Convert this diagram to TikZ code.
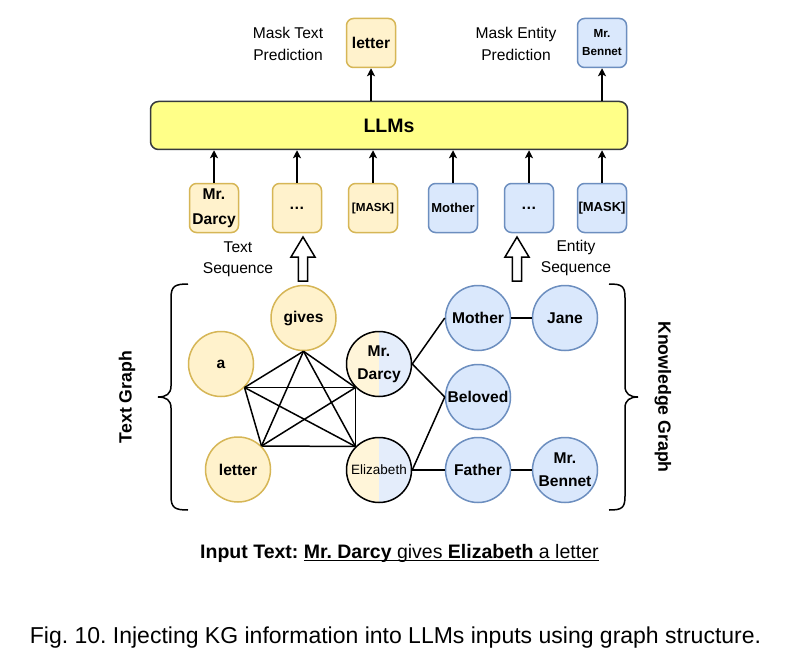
\documentclass[tikz,border=0pt]{standalone}
\usepackage{fontspec}
\setmainfont{Liberation Sans}
\usetikzlibrary{arrows.meta}
\frenchspacing
\definecolor{yfill}{HTML}{FFF2CC}
\definecolor{ystroke}{HTML}{D6B656}
\definecolor{bfill}{HTML}{DAE8FC}
\definecolor{bstroke}{HTML}{6C8EBF}
\definecolor{lfill}{HTML}{FFFF88}
\definecolor{lstroke}{HTML}{36393D}
\definecolor{hyl}{HTML}{FFF5D9}
\definecolor{hbl}{HTML}{E4EDFB}
\newcommand\fsz[2]{\fontsize{#1}{#2}\selectfont}
\newcommand\ulx[1]{\setbox0\hbox{#1}\rlap{\rule[-3pt]{\wd0}{1.4pt}}\box0}
\tikzset{
  ybox/.style={draw=ystroke, fill=yfill, line width=1.5pt, rounded corners=7pt, minimum width=49pt, minimum height=49pt, align=center, inner sep=0pt},
  bbox/.style={draw=bstroke, fill=bfill, line width=1.5pt, rounded corners=7pt, minimum width=49pt, minimum height=49pt, align=center, inner sep=0pt},
  ycirc/.style={circle, draw=ystroke, fill=yfill, line width=1.5pt, minimum size=65pt, inner sep=0pt, align=center, font=\fsz{15.6}{23}\bfseries},
  bcirc/.style={circle, draw=bstroke, fill=bfill, line width=1.5pt, minimum size=65pt, inner sep=0pt, align=center, font=\fsz{15.6}{23}\bfseries},
  splitcirc/.style={circle, draw=black, line width=1.5pt, minimum size=65pt, inner sep=0pt, align=center, font=\fsz{15.6}{23}\bfseries,
    path picture={
      \fill[hyl] (path picture bounding box.south west) rectangle (path picture bounding box.north);
      \fill[hbl] (path picture bounding box.south) rectangle (path picture bounding box.north east);
    }},
  arr/.style={-{Stealth[length=8pt,width=8pt,inset=2pt]}, line width=1.5pt},
  link/.style={line width=1.5pt},
  lbl/.style={align=center, inner sep=0pt, font=\fsz{15.6}{22}},
  hollow/.style={draw=black, fill=white, line width=1.5pt, line join=miter},
  brace/.style={draw=black, line width=1.5pt},
}
\begin{document}
\begin{tikzpicture}[x=1pt,y=-1pt]
\fill[white] (0,0) rectangle (786,663);
\useasboundingbox (0,0) rectangle (786,663);

% LLMs
\node[draw=lstroke, fill=lfill, line width=1.5pt, rounded corners=8pt, minimum width=477pt, minimum height=48pt, font=\fsz{19.5}{22}\bfseries] (llm) at (389,125.5) {LLMs};

% outputs
\node[ybox, font=\fsz{15.6}{20}\bfseries] (outl) at (371,43) {letter};
\node[bbox, font=\fsz{11.7}{18}\bfseries] (outb) at (602,43) {Mr.\\Bennet};
\node[lbl] (mtp) at (288,44) {Mask Text\\Prediction};
\node[lbl] (mep) at (516,44) {Mask Entity\\Prediction};

\draw[arr] (outl.south |- llm.north) -- (outl.south);
\draw[arr] (outb.south |- llm.north) -- (outb.south);

% input tokens
\node[ybox, font=\fsz{15.6}{25}\bfseries] (t1) at (214,208) {Mr.\\Darcy};
\node[ybox, font=\fsz{15.6}{20}\bfseries] (t2) at (297,208) {…};
\node[ybox, font=\fsz{11.7}{18}\bfseries] (t3) at (373,208) {[MASK]};
\node[bbox, font=\fsz{13}{18}\bfseries] (t4) at (453,208) {Mother};
\node[bbox, font=\fsz{15.6}{20}\bfseries] (t5) at (529,208) {…};
\node[bbox, font=\fsz{13}{18}\bfseries] (t6) at (602,208) {[MASK]};

\foreach \t in {t1,t2,t3,t4,t5,t6}{
  \draw[arr] (\t.north) -- (\t.north |- llm.south);
}

\node[lbl, font=\fsz{15.6}{21}] (tseq) at (238,259.5) {Text\\Sequence};
\node[lbl, font=\fsz{15.6}{21}] (eseq) at (576,258) {Entity\\Sequence};

% hollow arrows
\draw[hollow] (303,237) -- (315,257) -- (307.7,257) -- (307.7,281) -- (298.3,281) -- (298.3,257) -- (291,257) -- cycle;
\draw[hollow] (517,237) -- (529,257) -- (521.7,257) -- (521.7,281) -- (512.3,281) -- (512.3,257) -- (505,257) -- cycle;

% text graph
\node[ycirc] (gives) at (303.5,318) {gives};
\node[ycirc] (a) at (221,364) {a};
\node[ycirc] (letter) at (238,469.5) {letter};
\node[splitcirc] (darcy) at (379,364) {Mr.\\Darcy};
\node[splitcirc, font=\fsz{13.5}{18}] (eliz) at (379,470) {Elizabeth};

\draw[link] (gives.south) -- (a.south east);
\draw[link] (gives.south) -- (letter.north east);
\draw[link] (gives.south) -- (darcy.south west);
\draw[link] (gives.south) -- (eliz.north west);
\draw[link] (a.south east) -- (letter.north east);
\draw[link] (a.south east) -- (darcy.south west);
\draw[link] (a.south east) -- (eliz.north west);
\draw[link] (letter.north east) -- (darcy.south west);
\draw[link] (letter.north east) -- (eliz.north west);
\draw[link] (darcy.south west) -- (eliz.north west);

% knowledge graph
\node[bcirc] (mother) at (478,318) {Mother};
\node[bcirc] (jane) at (565,318) {Jane};
\node[bcirc] (beloved) at (478,397) {Beloved};
\node[bcirc] (father) at (478,470) {Father};
\node[bcirc] (bennet) at (565,470) {Mr.\\Bennet};

\draw[link] (darcy.east) -- (mother.west);
\draw[link] (darcy.east) -- (beloved.west);
\draw[link] (eliz.east) -- (beloved.west);
\draw[link] (eliz.east) -- (father.west);
\draw[link] (mother.east) -- (jane.west);
\draw[link] (father.east) -- (bennet.west);

% braces
\draw[brace] (188,284) .. controls (175,284) and (171,286) .. (171,298) -- (171,386) .. controls (171,394) and (166,397) .. (158,397) .. controls (166,397) and (171,400) .. (171,408) -- (171,496) .. controls (171,508) and (175,510) .. (188,510);
\draw[brace] (609,284) .. controls (622,284) and (625,286) .. (625,298) -- (625,386) .. controls (625,394) and (630,397) .. (638,397) .. controls (630,397) and (625,400) .. (625,408) -- (625,496) .. controls (625,508) and (622,510) .. (609,510);

\node[rotate=90, inner sep=0pt, font=\fsz{17.7}{20}\bfseries] (tg) at (127,397) {Text Graph};
\node[rotate=-90, inner sep=0pt, font=\fsz{17.7}{20}\bfseries] (kg) at (663,397) {Knowledge Graph};

% input text
\node[anchor=base west, inner sep=0pt, font=\fsz{19.5}{22}] (input) at (200,558) {\textbf{Input Text:} \ulx{\textbf{Mr. Darcy} gives \textbf{Elizabeth} a letter}};

% caption
\node[anchor=base, inner sep=0pt, font=\fsz{23}{26}] (cap) at (395.5,643) {Fig. 10. Injecting KG information into LLMs inputs using graph structure.};
\end{tikzpicture}
\end{document}
